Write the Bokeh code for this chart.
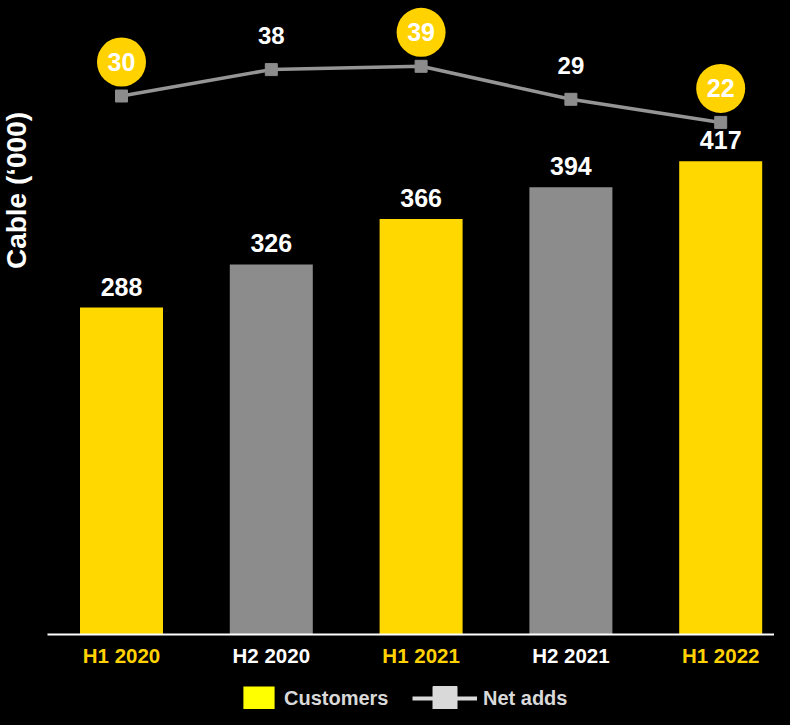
import math
from bokeh.plotting import figure
from bokeh.models import Range1d, Legend, LegendItem
from bokeh.embed import file_html
from bokeh.resources import INLINE
from bokeh.core.properties import value

# ---- data ----
periods = ["H1 2020", "H2 2020", "H1 2021", "H2 2021", "H1 2022"]
customers = [288, 326, 366, 394, 417]
net_adds = [30, 38, 39, 29, 22]

# ---- layout / style ----
W, H = 774, 709
X0_PX = 121      # pixel centre of first category
CAT_PX = 149.8   # pixels per category
BASE_PX = 634    # baseline, pixels from top
Y_PX = 1.135     # pixels per customer unit
NET_PX = 3.3     # pixels per net-add unit
NET_A = 194.5    # top px = NET_A - NET_PX * v
FONT_NAME = "Liberation Sans"
FONT = value(FONT_NAME)

YELLOW = "#FFD800"
BUBBLE = "#FFD200"
GREY = "#8C8C8C"
LINE_GREY = "#959595"
LEG_GREY = "#D9D9D9"


def px_x(fx):
    return (fx - X0_PX) / CAT_PX


def px_y(fy):
    return (BASE_PX - fy) / Y_PX


xs = list(range(len(periods)))
is_h1 = [p.startswith("H1") for p in periods]
bar_colors = [YELLOW if h else GREY for h in is_h1]
tick_colors = [BUBBLE if h else "white" for h in is_h1]

p = figure(width=W, height=H, output_backend="svg", toolbar_location=None,
           x_range=Range1d(px_x(0), px_x(W)),
           y_range=Range1d(px_y(H), px_y(0)),
           x_axis_location=None, y_axis_location=None,
           min_border=0, background_fill_color="black",
           border_fill_color="black", outline_line_color=None)
p.extra_y_ranges = {"net": Range1d((NET_A - H) / NET_PX, NET_A / NET_PX)}
p.xgrid.visible = False
p.ygrid.visible = False

# bars
p.vbar(x=xs, top=customers, width=83 / CAT_PX, fill_color=bar_colors,
       line_color=None)
p.text(x=xs, y=customers, text=[str(v) for v in customers], y_offset=-21,
       text_align="center", text_baseline="middle", text_color="white",
       text_font=FONT, text_font_style="bold", text_font_size="25px")

# baseline
p.segment(x0=[px_x(47)], y0=[0], x1=[px_x(W)], y1=[0], line_color="white",
          line_width=2)

# category labels
p.text(x=xs, y=[0] * len(xs), text=periods, y_offset=21, text_color=tick_colors,
       text_align="center", text_baseline="middle", text_font=FONT,
       text_font_style="bold", text_font_size="20.5px")

# net adds line
p.line(x=xs, y=net_adds, y_range_name="net", line_color=LINE_GREY, line_width=3.5)
p.scatter(x=xs, y=net_adds, y_range_name="net", marker="square", size=12,
          fill_color=GREY, line_color=GREY)

OFF = 34 / NET_PX
h1_x = [x for x, h in zip(xs, is_h1) if h]
h1_v = [v for v, h in zip(net_adds, is_h1) if h]
h2_x = [x for x, h in zip(xs, is_h1) if not h]
h2_v = [v for v, h in zip(net_adds, is_h1) if not h]
p.scatter(x=h1_x, y=[v + OFF for v in h1_v], y_range_name="net", marker="circle",
          size=49, fill_color=BUBBLE, line_color=None)
p.text(x=h1_x, y=[v + OFF for v in h1_v], text=[str(v) for v in h1_v],
       y_range_name="net", text_align="center", text_baseline="middle",
       text_color="white", text_font=FONT, text_font_style="bold",
       text_font_size="25px")
p.text(x=h2_x, y=h2_v, text=[str(v) for v in h2_v], y_offset=-34,
       y_range_name="net", text_align="center", text_baseline="middle",
       text_color="white", text_font=FONT, text_font_style="bold",
       text_font_size="24px")

# y title
p.text(x=[px_x(15.5)], y=[px_y(190)], text=["Cable (\u2018000)"], angle=math.pi / 2,
       text_align="center", text_baseline="middle", text_color="white",
       text_font=FONT, text_font_style="bold", text_font_size="28px")

# legend proxies (one point each, placed far outside the visible frame)
OUT_X = px_x(-3000)
OUT_Y = px_y(H + 3000)
leg_bar = p.vbar(x=[OUT_X], top=[OUT_Y], bottom=[OUT_Y - 1], width=0.5,
                 fill_color="#FFFF00", line_color=None)
leg_line = p.line(x=[OUT_X, OUT_X - 1], y=[OUT_Y, OUT_Y], line_color=LEG_GREY,
                  line_width=4)
leg_mark = p.scatter(x=[OUT_X], y=[OUT_Y], marker="square", size=24,
                     fill_color=LEG_GREY, line_color=LEG_GREY)

common = dict(orientation="horizontal", padding=0, margin=0, spacing=0,
              background_fill_alpha=0, border_line_alpha=0, label_standoff=6,
              label_text_color=LEG_GREY, label_text_font=FONT_NAME,
              label_text_font_style="bold", label_text_font_size="20px")
leg1 = Legend(items=[LegendItem(label="Customers", renderers=[leg_bar])],
              location=(239, -4), glyph_width=39, glyph_height=30, **common)
leg2 = Legend(items=[LegendItem(label="Net adds", renderers=[leg_line, leg_mark])],
              location=(412, -19), glyph_width=65, glyph_height=60, **common)
p.add_layout(leg1)
p.add_layout(leg2)

html = file_html(p, INLINE, title="Cable customers")
html = html.replace("<head>", "<head><style>body{background:#000;}</style>", 1)
open("out.html", "w").write(html)
